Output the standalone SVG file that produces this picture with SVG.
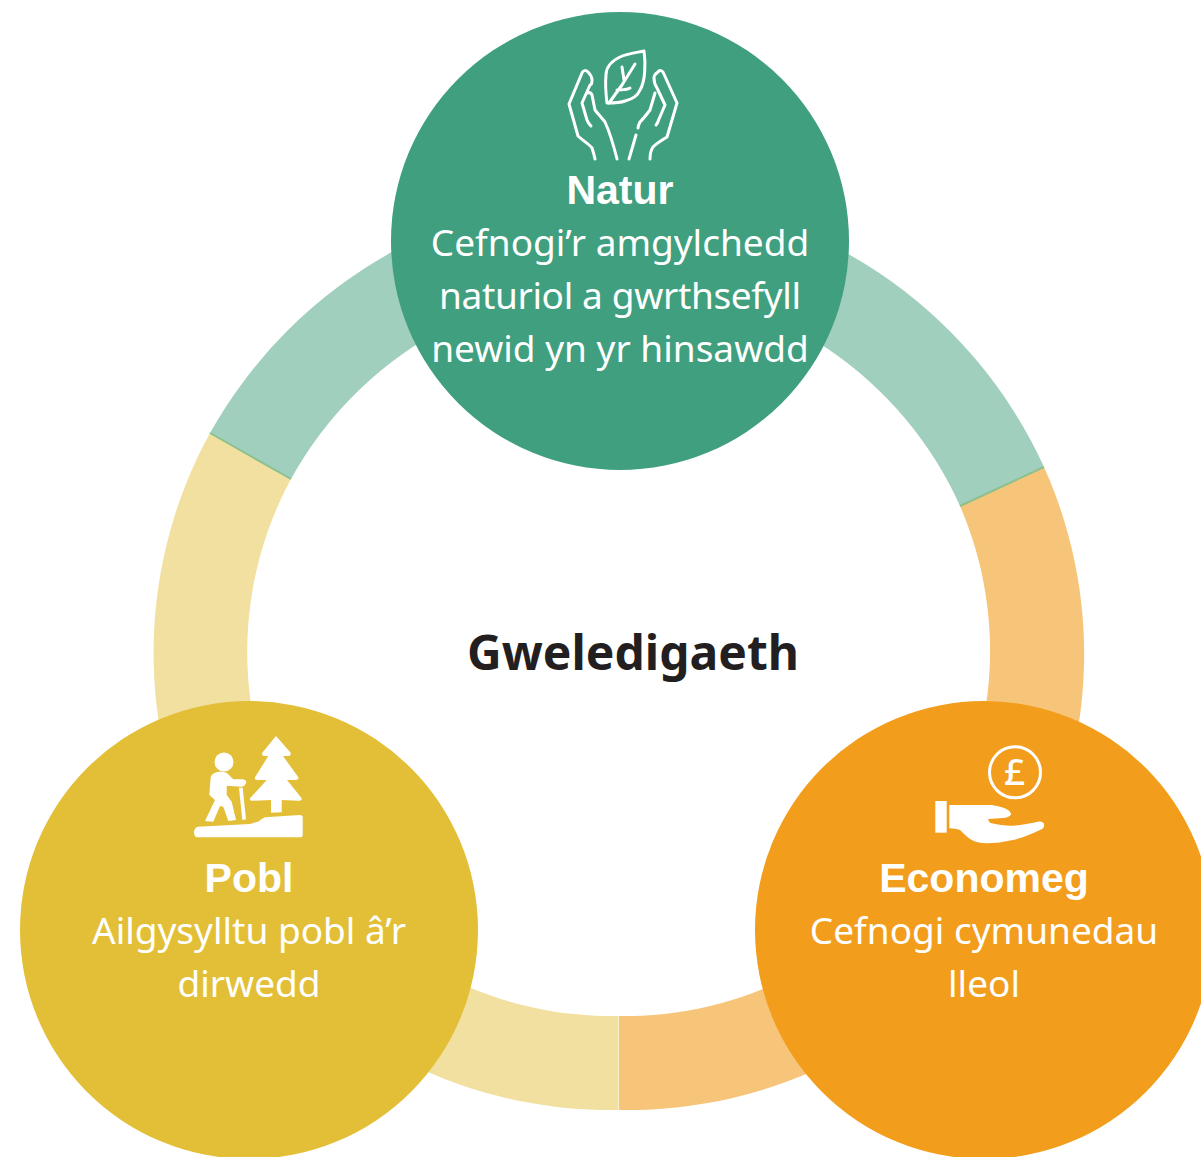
<svg xmlns="http://www.w3.org/2000/svg" width="1201" height="1157" viewBox="0 0 1201 1157">
<style>
.t{font-family:"Noto Sans","Open Sans",sans-serif;font-size:37px;fill:#fff;text-anchor:middle}
.h{font-family:"Liberation Sans",Arial,sans-serif;font-weight:700;font-size:41px;fill:#fff;text-anchor:middle}
.g{font-family:"Noto Sans","Open Sans",sans-serif;font-weight:700;font-size:48px;fill:#231f20;text-anchor:middle}
.ln{fill:none;stroke:#fff;stroke-width:3;stroke-linecap:round;stroke-linejoin:round}
</style>
<rect width="1201" height="1157" fill="#fff"/>
<g id="connectors">
<path d="M618.500 1110A457 457 0 0 1 210 433L291 479A364 364 0 0 0 618.500 1016Z" fill="#F2E0A0"/>
<path d="M619 1110A456 456 0 0 0 1044 467L960 506A365 365 0 0 1 619 1016Z" fill="#F7C57A"/>
<path d="M210 433A468 468 0 0 1 1044 467L960 506A374 374 0 0 0 291 479Z" fill="#A1CFBE"/>
<path d="M210 433L291 479M1044 467L960 506" stroke="#8CC08F" stroke-width="2" fill="none"/>
</g>
<g id="natur">
<circle cx="620" cy="241" r="229" fill="#3F9F7F"/>
<g class="ln">
<path d="M644 51C634 53 626 54 620 57C611 61 606 68 606 75C605 85 606 95 607 103C614 103 620 103 625 101C633 99 638 95 640 90C645 82 646 65 644 51Z"/>
<path d="M609 103L622 85L635 64M622 67L624 80M617 90C623 90 627 90 630 88"/>
<path d="M595 159C594 154 593 151 592 148C589 144 582 140 578 136L569 104L582 73C583 70 586 70 588 72C591 75 592 78 592 80C592 84 591 85 590 85L582 103L587 120C588 123 589 124 591 126M588 93C590 92 591 93 592 95L595 110C598 114 602 118 605 122C610 133 614 147 617 159"/>
<path d="M650 159C650 154 651 150 653 147C657 143 662 140 667 137L677 103L663 72C661 70 659 70 658 72C655 74 654 76 654 78C654 83 655 85 657 88L665 105L659 119C658 122 657 124 656 125M655 93L650 110C647 114 644 118 640 122C639 124 638 126 638 128M636 135L629 159"/>
</g>
<text class="h" x="620" y="204">Natur</text>
<text class="t" x="620" y="256">Cefnogi’r amgylchedd</text>
<text class="t" x="620" y="309" textLength="362">naturiol a gwrthsefyll</text>
<text class="t" x="620" y="362">newid yn yr hinsawdd</text>
</g>
<g id="pobl">
<circle cx="249" cy="930" r="229" fill="#E3BF38"/>
<g fill="#fff">
<circle cx="224" cy="762" r="9.500"/>
<path d="M210.700 777C213 771 222 771 227 773L233.300 779.300H241.700C245 779.300 247 781 246 783C245 786 243 787 241 786.700L226.700 785.700V795L231.700 801.700L236 820L228.300 821L223.300 806.700L220 806L213.300 821.700L205 821L215 800L209.300 795Z"/>
<path d="M239 787.700H242.700L246 819.300L242.300 820Z"/>
<path d="M276 736L290.700 752.700C291 755 290 756 288 756H283L298.300 777.300C299 779 297 780 295 780H287L301.700 798.300C302 800 300 801 298.300 800.700L281.700 800V812.300L271 812.700V800L253.300 800.700C251 801 249.500 800 250 798.300L266.700 780H257.300C255.500 780 254.500 779 255 777.300L268.300 756H264C262.500 756 261.500 754 262.300 752.700Z"/>
<path d="M194 832C194 829 196 827 198 826.700L250 824L258 821.700C261 820 263 818 265 817.300L300 815C302 815 302.700 816 302.700 817.300V835C302.700 836.500 301.500 837.300 300 837.300H198C195 837.300 194 835 194 832Z"/>
</g>
<text class="h" x="249" y="892">Pobl</text>
<text class="t" x="249" y="944">Ailgysylltu pobl â’r</text>
<text class="t" x="249" y="997">dirwedd</text>
</g>
<g id="economeg">
<circle cx="984" cy="930" r="229" fill="#F29D1C"/>
<circle cx="1015" cy="772.300" r="25.500" fill="none" stroke="#fff" stroke-width="3"/>
<text x="1014.500" y="785" font-family="'Noto Sans',sans-serif" font-weight="500" font-size="37" fill="#fff" text-anchor="middle">£</text>
<g fill="#fff">
<rect x="935.300" y="801" width="11.400" height="31.700"/>
<path d="M949.300 805H991.700C999 806 1005 808 1008 810C1011 812 1011.500 815 1010.700 815C1009 817 1006 818 1003 818L988.300 819C988 821 990 823 991.700 823.300C999 825 1006 826 1013 825.700C1022 825 1031 823 1038 821.700C1042 821 1045 823 1044 825.700C1044 828 1042 829 1040 830C1031 834 1022 838 1013 840C1004 842 995 843.300 986.700 843.300C980 843 975 842 970 839C966 836 963 833 960 830C957 829 953 828.300 949.300 828.300Z"/>
</g>
<text class="h" x="984" y="892">Economeg</text>
<text class="t" x="984" y="944">Cefnogi cymunedau</text>
<text class="t" x="984" y="997">lleol</text>
</g>
<g id="gweledigaeth">
<text class="g" x="633" y="670">Gweledigaeth</text>
</g>
</svg>
